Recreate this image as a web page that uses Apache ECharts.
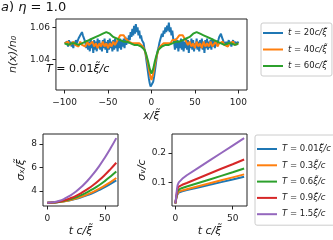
<!DOCTYPE html>
<html><head><meta charset="utf-8">
<script src="https://cdn.jsdelivr.net/npm/echarts@6/dist/echarts.min.js"></script>
<style>html,body{margin:0;padding:0;background:#fff}#c{width:333px;height:240px}</style>
</head><body><div id="c"></div>
<script>
// ---- top panel: density profiles ----
const xBlue = [-100,-99,-98,-97,-96,-95,-94,-93,-92,-91,-90,-89,-88,-87,-86,-85,-84,-83,-82,-81,-80,-79,-78,-77,-76,-75,-74,-73,-72,-71,-70,-69,-68,-67,-66,-65,-64,-63,-62,-61,-60,-59,-58,-57,-56,-55,-54,-53,-52,-51,-50,-49,-48,-47,-46,-45,-44,-43,-42,-41,-40,-39,-38,-37,-36,-35,-34,-33,-32,-31,-30,-29,-28,-27,-26,-25,-24,-23,-22,-21,-20,-19,-18,-17,-16,-15,-14,-13,-12,-11,-10,-9,-8,-7,-6,-5,-4,-3,-2,-1,0,1,2,3,4,5,6,7,8,9,10,11,12,13,14,15,16,17,18,19,20,21,22,23,24,25,26,27,28,29,30,31,32,33,34,35,36,37,38,39,40,41,42,43,44,45,46,47,48,49,50,51,52,53,54,55,56,57,58,59,60,61,62,63,64,65,66,67,68,69,70,71,72,73,74,75,76,77,78,79,80,81,82,83,84,85,86,87,88,89,90,91,92,93,94,95,96,97,98,99,100];
const nBlue = [1.050,1.051,1.049,1.051,1.048,1.052,1.049,1.051,1.048,1.050,1.047,1.051,1.049,1.052,1.050,
1.051,1.053,1.052,1.055,1.054,1.057,1.055,1.054,1.052,1.050,
1.047,1.052,1.046,1.051,1.045,1.053,1.047,1.050,1.044,1.052,1.046,1.051,1.045,1.053,1.047,1.052,1.046,1.050,1.045,1.052,
1.047,1.053,1.046,1.051,1.044,1.052,1.046,1.053,1.047,1.051,1.045,1.052,1.046,1.053,1.047,1.051,1.045,1.052,1.047,1.053,
1.046,1.052,1.048,1.053,1.047,1.054,1.049,1.053,1.050,1.055,
1.052,1.057,1.054,1.059,1.055,1.061,1.056,1.062,1.057,1.060,1.055,1.058,1.053,1.055,1.052,
1.052,1.050,1.046,1.044,1.040,1.036,1.032,1.028,1.025,1.023,
1.022,
1.023,1.026,1.029,1.033,1.037,1.041,1.045,1.047,1.050,1.052,
1.053,1.056,1.054,1.058,1.056,1.060,1.057,1.061,1.058,1.063,1.057,1.060,1.055,1.058,1.053,
1.051,1.046,1.053,1.047,1.052,1.045,1.051,1.047,1.053,1.046,1.052,1.045,1.051,1.047,1.053,1.046,1.052,1.044,1.051,1.047,
1.053,1.046,1.052,1.045,1.050,1.047,1.053,1.046,1.051,1.045,1.052,1.047,1.053,1.046,1.051,1.044,1.052,1.047,1.053,1.046,
1.051,1.047,1.052,1.046,1.053,1.048,1.052,1.047,1.051,1.049,
1.050,1.052,1.054,1.055,1.056,1.054,1.053,1.051,1.052,1.049,
1.051,1.048,1.050,1.052,1.049,1.051,1.048,1.050,1.052,1.049,1.051,1.050,1.049,1.051,1.050];
const xStep2 = [-100,-98,-96,-94,-92,-90,-88,-86,-84,-82,-80,-78,-76,-74,-72,-70,-68,-66,-64,-62,-60,-58,-56,-54,-52,-50,-48,-46,-44,-42,-40,-38,-36,-34,-32,-30,-28,-26,-24,-22,-20,-18,-16,-14,-12,-10,-8,-6,-4,-2,0,2,4,6,8,10,12,14,16,18,20,22,24,26,28,30,32,34,36,38,40,42,44,46,48,50,52,54,56,58,60,62,64,66,68,70,72,74,76,78,80,82,84,86,88,90,92,94,96,98,100];
const nOrange = [1.050,1.049,1.051,1.049,1.050,1.051,1.049,1.050,1.048,1.051,1.049,1.050,1.048,1.051,1.049,
1.048,1.051,1.048,1.050,1.047,1.050,1.048,1.051,1.048,1.050,1.047,1.050,1.048,1.051,1.049,
1.051,1.053,1.055,1.056,1.055,1.053,
1.052,1.051,1.052,1.050,1.051,1.050,1.051,1.050,1.049,
1.048,1.046,1.042,1.037,1.031,
1.027,
1.031,1.037,1.042,1.046,1.048,
1.049,1.050,1.051,1.050,1.051,1.050,1.052,1.051,1.052,
1.053,1.055,1.056,1.055,1.053,1.051,
1.049,1.051,1.048,1.050,1.047,1.051,1.048,1.050,1.047,1.051,1.048,1.050,1.048,1.051,1.048,
1.049,1.051,1.048,1.050,1.049,1.051,1.049,1.050,1.048,1.050,1.049,1.051,1.049,1.050,1.050];
const nGreen = [1.050,1.050,1.049,1.050,1.050,1.051,1.050,1.050,1.049,1.050,1.050,1.051,
1.051,1.051,1.052,1.052,1.053,1.053,1.054,1.054,1.055,1.055,1.056,1.056,1.057,
1.056,1.056,1.055,1.054,1.053,1.053,1.052,1.052,1.051,1.051,
1.050,1.051,1.050,1.050,1.050,1.049,1.049,1.049,1.048,1.048,
1.047,1.046,1.043,1.039,1.034,
1.031,
1.034,1.039,1.043,1.046,1.047,
1.048,1.048,1.049,1.049,1.049,1.050,1.050,1.050,1.051,1.050,
1.051,1.051,1.052,1.052,1.053,1.053,1.054,1.055,1.056,1.056,
1.057,1.056,1.056,1.055,1.055,1.054,1.054,1.053,1.053,1.052,1.052,1.051,1.051,
1.051,1.050,1.050,1.049,1.050,1.050,1.051,1.050,1.050,1.049,1.050,1.050];
const topNames = ['t = 20c/ξ̃','t = 40c/ξ̃','t = 60c/ξ̃'];
const topTicksX = [-100,-50,0,50,100];
const topTicksY = [1.04,1.06];

// ---- bottom panels ----
const tX = [0,5,10,15,20,25,30,35,40,45,50,55,60];
const sxBlue   = [3.00,3.01,3.05,3.12,3.21,3.33,3.48,3.65,3.84,4.07,4.32,4.60,4.90];
const sxOrange = [3.00,3.01,3.06,3.13,3.23,3.36,3.52,3.71,3.93,4.18,4.46,4.76,5.10];
const sxGreen  = [3.00,3.02,3.07,3.17,3.29,3.46,3.66,3.90,4.18,4.49,4.84,5.23,5.65];
const sxRed    = [3.00,3.02,3.09,3.21,3.38,3.59,3.85,4.16,4.51,4.91,5.36,5.86,6.40];
const sxPurple = [3.00,3.04,3.15,3.34,3.61,3.96,4.38,4.87,5.45,6.10,6.83,7.63,8.50];
const tV = [0,0.5,1,1.5,2,3,4,6,10,20,30,40,50,60];
const svBlue   = [0.030,0.040,0.050,0.058,0.063,0.067,0.069,0.071,0.075,0.084,0.093,0.102,0.111,0.120];
const svOrange = [0.030,0.041,0.051,0.060,0.066,0.070,0.072,0.074,0.078,0.088,0.098,0.108,0.118,0.128];
const svGreen  = [0.030,0.042,0.054,0.064,0.072,0.077,0.079,0.082,0.087,0.099,0.111,0.123,0.135,0.148];
const svRed    = [0.030,0.043,0.057,0.070,0.080,0.087,0.090,0.093,0.099,0.115,0.131,0.147,0.162,0.178];
const svPurple = [0.030,0.045,0.062,0.080,0.092,0.101,0.106,0.113,0.125,0.150,0.175,0.200,0.225,0.250];
const botNames = ['T = 0.01ξ̃/c','T = 0.3ξ̃/c','T = 0.6ξ̃/c','T = 0.9ξ̃/c','T = 1.5ξ̃/c'];
const botTicksT = [0,50];
const ticksSx = [4,6,8];
const ticksSv = [0.1,0.2];

const C = ['#1f77b4','#ff7f0e','#2ca02c','#d62728','#9467bd'];
const F = 'DejaVu Sans';
const zip = (a,b)=>a.map((v,i)=>[v,b[i]]);

function xAx(grid,min,max,ticks,name,gap){
  return {type:'value',gridIndex:grid,min:min,max:max,
    axisLine:{show:false,onZero:false},splitLine:{show:false},
    axisTick:{show:true,inside:false,length:3.5,customValues:ticks,lineStyle:{color:'#222',width:1}},
    axisLabel:{customValues:ticks,margin:8,fontFamily:F,fontSize:9,color:'#222',
      formatter:v=>v<0?'\u2212'+(-v):''+v},
    name:name,nameLocation:'middle',nameGap:gap,
    nameTextStyle:{fontFamily:F,fontSize:11,color:'#222',fontStyle:'italic'}};
}
function yAx(grid,min,max,ticks,fmt,name,gap){
  return {type:'value',gridIndex:grid,min:min,max:max,
    axisLine:{show:false,onZero:false},splitLine:{show:false},
    axisTick:{show:true,inside:false,length:3.5,customValues:ticks,lineStyle:{color:'#222',width:1}},
    axisLabel:{customValues:ticks,margin:6,fontFamily:F,fontSize:9,color:'#222',formatter:fmt},
    name:name,nameLocation:'middle',nameGap:gap,nameRotate:90,
    nameTextStyle:{fontFamily:F,fontSize:11,color:'#222',fontStyle:'italic'}};
}
function line(name,data,xi,yi,color,smooth){
  return {type:'line',name:name,data:data,xAxisIndex:xi,yAxisIndex:yi,showSymbol:false,
    smooth:smooth,lineStyle:{color:color,width:2},itemStyle:{color:color},animation:false};
}
const rich = {i:{fontStyle:'italic',fontFamily:F,fontSize:8.5,color:'#222'},
              n:{fontFamily:F,fontSize:8.5,color:'#222'}};
function legFmt(name){
  const parts = name.split(' = ');
  const m = parts[1].match(/^([0-9.]+)(.*)$/);
  return '{i|'+parts[0]+'}{n| = '+m[1]+'}{i|'+m[2]+'}';
}

const chart = echarts.init(document.getElementById('c'),null,{renderer:'canvas'});
const series = [
  line(topNames[0],zip(xBlue,nBlue),0,0,C[0],false),
  line(topNames[1],zip(xStep2,nOrange),0,0,C[1],false),
  line(topNames[2],zip(xStep2,nGreen),0,0,C[2],false),
  line(botNames[0],zip(tX,sxBlue),1,1,C[0],true),
  line(botNames[1],zip(tX,sxOrange),1,1,C[1],true),
  line(botNames[2],zip(tX,sxGreen),1,1,C[2],true),
  line(botNames[3],zip(tX,sxRed),1,1,C[3],true),
  line(botNames[4],zip(tX,sxPurple),1,1,C[4],true),
  line(botNames[0],zip(tV,svBlue),2,2,C[0],false),
  line(botNames[1],zip(tV,svOrange),2,2,C[1],false),
  line(botNames[2],zip(tV,svGreen),2,2,C[2],false),
  line(botNames[3],zip(tV,svRed),2,2,C[3],false),
  line(botNames[4],zip(tV,svPurple),2,2,C[4],false)
];
const titleRich = s => ({i:{fontStyle:'italic',fontWeight:'normal',fontFamily:F,fontSize:s,color:'#111'},
                         n:{fontWeight:'normal',fontFamily:F,fontSize:s,color:'#111'}});
chart.setOption({
  animation:false,
  title:[
    {text:'{i|a}{n|) }{i|η}{n| = 1.0}',left:1,top:1,padding:0,
     textStyle:{fontWeight:'normal',rich:titleRich(13)}},
    {text:'{i|T}{n| = 0.01}{i|ξ̃/c}',left:46,top:64,padding:0,
     textStyle:{fontWeight:'normal',rich:titleRich(11)}}
  ],
  grid:[
    {left:43,top:19,width:204,height:71,show:true,borderColor:'#222',borderWidth:1,backgroundColor:'transparent'},
    {left:43,top:134,width:75,height:72,show:true,borderColor:'#222',borderWidth:1,backgroundColor:'transparent'},
    {left:172,top:134,width:75,height:72,show:true,borderColor:'#222',borderWidth:1,backgroundColor:'transparent'}
  ],
  xAxis:[
    xAx(0,-110,110,topTicksX,'x/ξ̃',21),
    xAx(1,-3.7,61.5,botTicksT,'t c/ξ̃',20),
    xAx(2,-2.9,62.5,botTicksT,'t c/ξ̃',20)
  ],
  yAxis:[
    yAx(0,1.0208,1.0652,topTicksY,v=>v.toFixed(2),'n(x)/n₀',30),
    yAx(1,2.72,8.85,ticksSx,v=>''+v,'σₓ/ξ̃',16),
    yAx(2,0.0215,0.264,ticksSv,v=>v.toFixed(1),'σᵥ/c',24)
  ],
  legend:[
    {data:topNames,orient:'vertical',left:261,top:23,padding:[4,5,4,2],itemGap:4.5,
     itemWidth:20,itemHeight:2,icon:'rect',borderColor:'#ccc',borderWidth:1,borderRadius:2,
     backgroundColor:'#fff',selectedMode:false,formatter:legFmt,
     textStyle:{fontFamily:F,fontSize:8.5,lineHeight:12,color:'#222',rich:rich}},
    {data:botNames,orient:'vertical',left:255,top:135,padding:[8,4,5,2],itemGap:4.3,
     itemWidth:20,itemHeight:2,icon:'rect',borderColor:'#ccc',borderWidth:1,borderRadius:2,
     backgroundColor:'#fff',selectedMode:false,formatter:legFmt,
     textStyle:{fontFamily:F,fontSize:8.5,lineHeight:12,color:'#222',rich:rich}}
  ],
  series:series
});
</script></body></html>
